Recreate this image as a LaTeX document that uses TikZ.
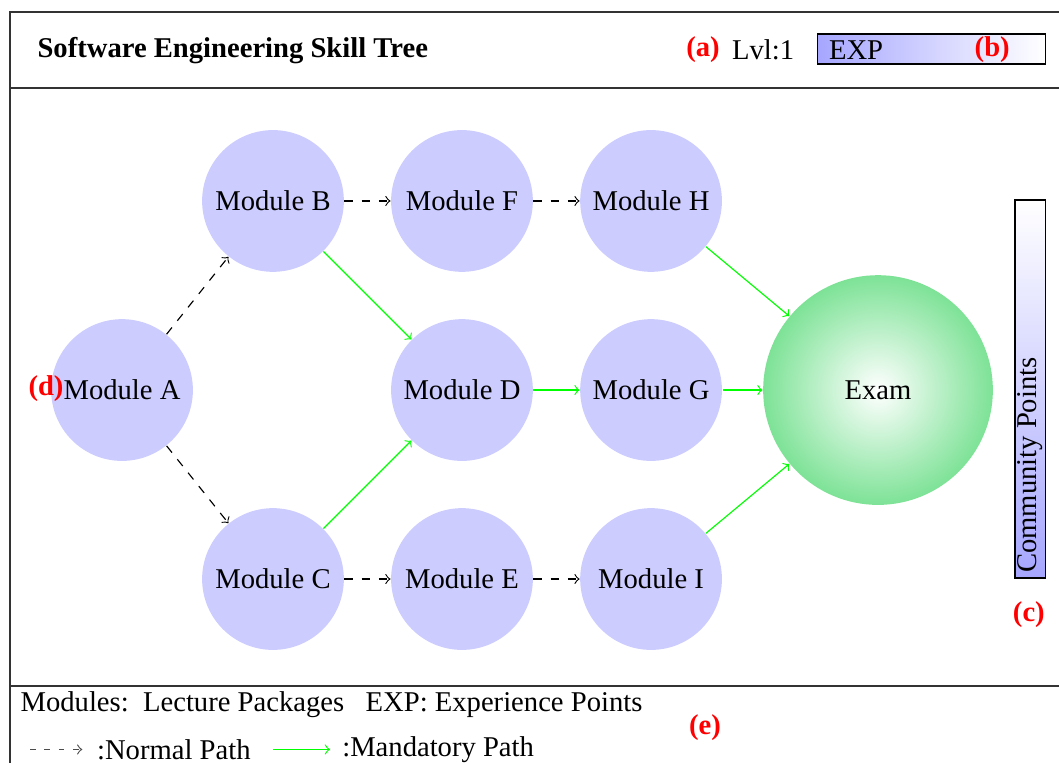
\documentclass[tikz,border=0pt]{standalone}
\usepackage{fontspec}
\setmainfont{Liberation Serif}
\usepackage{tikz}
\usetikzlibrary{shapes.geometric}
\usetikzlibrary{calc}
\usetikzlibrary{arrows}
\usetikzlibrary{shadings}
\definecolor{examgreen}{RGB}{125,226,150}
\tikzset{module/.style={shape=circle, fill=blue!20, minimum size=1.74cm, inner sep=0pt}}
\tikzset{exam/.style={shape=circle, inner color=white, outer color=examgreen, minimum size=2.82cm, inner sep=0pt}}
\tikzset{normalpath/.style={->, dashed, black}}
\tikzset{mandatory/.style={->, green}}
\tikzset{tag/.style={text=red, font=\bfseries}}
\tikzset{frame/.style={draw=black!80, line width=0.5pt}}

\begin{document}
\begin{tikzpicture}
		\clip (0,0) rectangle (13,-9.366);
		% frame and separators
		\draw[frame] (0.123,-9.6) -- (0.123,-0.147) -- (13.3,-0.147);
		\draw[frame] (0.123,-1.08) -- (13.3,-1.08);
		\draw[frame] (0.123,-8.421) -- (13.3,-8.421);
		% header
		\node[anchor=west, inner sep=0pt, font=\bfseries] (title) at (0.454,-0.615) {Software Engineering Skill Tree};
		\node[tag] (a) at (8.63,-0.615) {(a)};
		\node (lvl) at (9.367,-0.615) {Lvl:1};
		\shade[draw=black, left color=blue!35, right color=white] (10.03,-0.417) rectangle (12.83,-0.786);
		\node[anchor=west, inner sep=0pt] (exp) at (10.17,-0.615) {EXP};
		\node[tag] (b) at (12.18,-0.615) {(b)};
		% community points
		\shade[draw=black, bottom color=blue!35, top color=white] (12.46,-2.455) rectangle (12.83,-7.096);
		\node[rotate=90, anchor=west, inner sep=0pt] (cp) at (12.644,-7.04) {Community Points};
		\node[tag] (c) at (12.63,-7.55) {(c)};
		% modules
		\node[module] (A) at (1.498,-4.788) {Module A};
		\node[module] (B) at (3.351,-2.467) {Module B};
		\node[module] (F) at (5.671,-2.467) {Module F};
		\node[module] (H) at (7.992,-2.467) {Module H};
		\node[module] (D) at (5.671,-4.788) {Module D};
		\node[module] (G) at (7.992,-4.788) {Module G};
		\node[module] (C) at (3.351,-7.108) {Module C};
		\node[module] (E) at (5.671,-7.108) {Module E};
		\node[module] (I) at (7.992,-7.108) {Module I};
		\node[exam] (X) at (10.778,-4.788) {Exam};
		\node[tag, inner sep=0pt] (d) at (0.565,-4.77) {(d)};
		% paths
		\path [normalpath] (A) edge (B);
		\path [normalpath] (A) edge (C);
		\path [normalpath] (B) edge (F);
		\path [normalpath] (F) edge (H);
		\path [normalpath] (C) edge (E);
		\path [normalpath] (E) edge (I);
		\path [mandatory] (B) edge (D);
		\path [mandatory] (C) edge (D);
		\path [mandatory] (D) edge (G);
		\path [mandatory] (G) edge (X);
		\path [mandatory] (H) edge (X);
		\path [mandatory] (I) edge (X);
		% legend
		\node[anchor=west, inner sep=0pt] (keys) at (0.246,-8.655) {Modules:\ \ Lecture Packages\hspace{5pt} EXP: Experience Points};
		\coordinate (n1) at (0.37,-9.2);
		\coordinate (n2) at (1.01,-9.2);
		\draw[normalpath, black!70, dash pattern=on 2pt off 3pt] (n1) -- (n2);
		\node[anchor=west, inner sep=0pt] (normal) at (1.185,-9.2) {:Normal Path};
		\coordinate (m1) at (3.351,-9.2);
		\coordinate (m2) at (4.051,-9.2);
		\draw[mandatory] (m1) -- (m2);
		\node[anchor=west, inner sep=0pt] (mand) at (4.195,-9.2) {:Mandatory Path};
		\node[tag] (e) at (8.655,-8.937) {(e)};
	\end{tikzpicture}
\end{document}
